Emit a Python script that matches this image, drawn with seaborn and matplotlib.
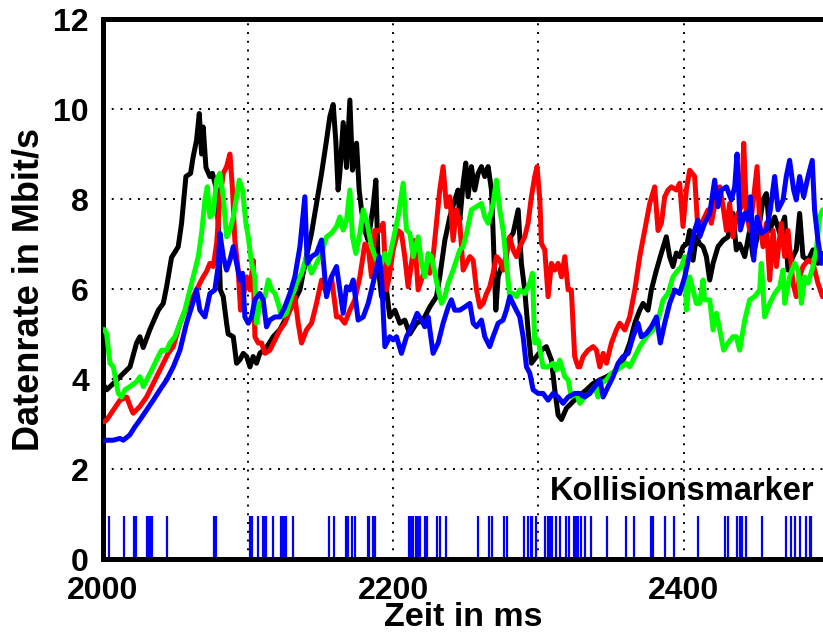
import matplotlib
matplotlib.use("Agg")
import matplotlib.pyplot as plt
import matplotlib.ticker as mticker
import seaborn as sns
import pandas as pd

# ---------------- data (time in ms, rate in Mbit/s) ----------------
black = [(2001, 3.85), (2002.7, 3.76), (2007.3, 3.9), (2011.9, 4.05), (2018.8, 4.27), (2023.3, 4.8),
         (2025.6, 4.94), (2027.9, 4.7), (2032.5, 5.1), (2038.3, 5.53), (2041.7, 5.68), (2044, 6.05),
         (2047.4, 6.7), (2052, 6.94), (2054.3, 7.46), (2057.3, 8.5), (2060.5, 8.57), (2062.3, 8.94),
         (2064.6, 9.3), (2066.5, 9.9), (2068.1, 9.0), (2069.2, 9.6), (2071.1, 8.7), (2073.8, 8.5),
         (2075.6, 8.57), (2078.4, 8.2), (2079.5, 7.46),
         (2081, 5.98), (2083, 5.83), (2085.3, 5.24), (2086.4, 5.0), (2089.9, 4.94), (2092.2, 4.35),
         (2094.5, 4.43), (2096.8, 4.57), (2099.1, 4.5), (2101.4, 4.27), (2103.6, 4.5), (2105.9, 4.35),
         (2108.2, 4.57), (2112.8, 4.7), (2117.4, 4.94), (2122, 5.1), (2126.6, 5.38), (2131.2, 5.68),
         (2135.8, 5.98), (2140.3, 6.72), (2143.8, 7.24), (2147.2, 7.9), (2150.7, 8.57), (2154.1, 9.3),
         (2156.4, 9.83), (2158.7, 10.1), (2160.5, 9.3), (2162.1, 8.2),
         (2163.3, 8.57), (2165.6, 9.7), (2167.9, 8.7), (2170.2, 10.2), (2172, 8.64), (2174.8, 9.24),
         (2176.6, 8.2), (2178.2, 7.76), (2180.5, 7.3), (2182.8, 7.08), (2186.2, 7.83), (2188.1, 8.42),
         (2189.7, 6.5), (2192, 5.83), (2195.4, 5.98), (2197.7, 5.38), (2201.2, 5.53), (2204.6, 5.24),
         (2208, 5.31), (2211.5, 5.0), (2216.1, 5.24), (2220.6, 5.31), (2225.2, 5.6), (2229.8, 5.83),
         (2232.1, 6.27), (2235.6, 7.08), (2239, 7.6), (2242.4, 7.97), (2244.7, 8.2),
         (2245.9, 7.53), (2248.2, 8.35), (2250, 8.8), (2251.6, 8.05), (2253.9, 8.72), (2256.2, 8.2),
         (2258.5, 8.57), (2260.8, 8.72), (2263.1, 8.5), (2265.4, 8.72), (2267.7, 8.2), (2268.8, 7.3),
         (2270.7, 5.53), (2272.3, 6.27), (2274.6, 6.5), (2276.9, 6.43), (2279.2, 7.08), (2282.6, 7.24),
         (2286.1, 7.76), (2288.3, 6.57), (2290.6, 5.98), (2292.9, 5.09), (2295.2, 4.35), (2298.7, 4.5),
         (2302.1, 4.64), (2305.5, 4.72), (2309, 4.42), (2311.3, 3.76), (2313.6, 3.2), (2315.9, 3.1),
         (2319.3, 3.35), (2323.9, 3.5),
         (2328.5, 3.64), (2333.1, 3.76), (2337.7, 3.9), (2342.3, 3.98), (2346.9, 4.05), (2351.4, 4.13),
         (2356, 4.27), (2359.5, 4.5), (2362.9, 4.8), (2366.4, 5.24), (2369.8, 5.53), (2372.1, 5.68),
         (2375.5, 5.53), (2377.8, 5.98), (2381.3, 6.42), (2384.7, 6.8), (2388.1, 7.16), (2390.4, 6.72),
         (2392.7, 6.5), (2395, 6.8), (2397.3, 6.72), (2399.6, 6.94), (2402.4, 7.01), (2404.2, 7.3),
         (2406.5, 6.64), (2408.8, 7.16),
         (2411.1, 7.0), (2413.4, 6.94), (2415.7, 6.72), (2418, 6.2), (2420.3, 6.57), (2423.7, 6.94),
         (2427.2, 7.08), (2430.6, 7.16), (2434, 7.68), (2436.3, 6.87), (2438.6, 7.0), (2442.1, 6.72),
         (2445.5, 7.3), (2447.8, 6.72), (2451.3, 7.24), (2454.7, 7.98), (2457, 8.12), (2459.3, 7.3),
         (2462.7, 7.6), (2466.2, 7.24), (2469.6, 7.6), (2471.9, 6.42), (2475.3, 6.72), (2477.6, 6.87),
         (2479.9, 7.68), (2482.2, 6.72), (2485.7, 6.64), (2489.1, 6.87), (2492.5, 6.57), (2495.7, 6.64)]

red = [(2001, 3.05), (2002.7, 3.09), (2007.3, 3.31), (2011.9, 3.53), (2016.5, 3.6), (2019.9, 3.31),
       (2021, 3.24), (2025.6, 3.39), (2030.2, 3.6), (2034.8, 3.9), (2039.4, 4.2), (2042.8, 4.42),
       (2045.1, 4.57), (2048.6, 4.72), (2053.2, 5.24), (2057.7, 5.6), (2062.3, 5.83), (2066.9, 6.13),
       (2069.2, 6.27), (2071.5, 6.39), (2073.8, 6.57), (2076.1, 6.5), (2078.4, 7.0),
       (2080.7, 7.98), (2083, 8.57), (2085.3, 8.72), (2087.6, 9.0), (2089.4, 8.2), (2091, 7.08),
       (2093.3, 6.42), (2094.9, 5.53), (2096.8, 5.83), (2099.1, 6.27), (2101.4, 5.98), (2103.6, 6.64),
       (2104.8, 4.94), (2107.1, 4.8), (2109.4, 4.8), (2111.7, 4.57), (2115.1, 4.64), (2118.6, 4.87),
       (2122, 5.09), (2125.4, 5.24), (2128.9, 5.53), (2132.3, 5.83), (2134.6, 5.24), (2136.9, 4.8),
       (2140.3, 5.09), (2143.8, 5.24), (2147.2, 5.68), (2150.7, 6.2), (2154.1, 5.9), (2157.5, 6.27),
       (2161, 5.38),
       (2163.3, 5.38), (2166.7, 5.24), (2170.2, 5.53), (2173.6, 5.76), (2177.1, 6.27), (2180.5, 7.0),
       (2182.8, 6.94), (2185.1, 6.27), (2187.4, 7.3), (2190.8, 7.3), (2193.1, 7.46), (2195.4, 5.98),
       (2197.3, 6.27), (2200, 6.87), (2203.4, 7.3), (2205.7, 7.24), (2208, 6.72), (2210.3, 6.05),
       (2212.6, 6.57), (2214.9, 7.08), (2217.2, 5.98), (2220.2, 6.27), (2222.9, 6.5), (2225.2, 6.35),
       (2227.5, 6.72), (2229.8, 7.46), (2232.1, 8.2), (2234.4, 8.72), (2236.7, 7.83), (2239, 8.05),
       (2241.3, 7.08), (2243.6, 7.76),
       (2245.9, 7.46), (2248.2, 6.42), (2250.5, 6.57), (2252.8, 6.72), (2255.1, 6.64), (2257.4, 5.98),
       (2259.7, 5.6), (2262, 5.68), (2264.3, 5.9), (2266.5, 6.05), (2268.8, 6.35), (2271.1, 6.72),
       (2273.4, 6.64), (2275.7, 6.42), (2278, 6.79), (2280.3, 7.16), (2282.6, 6.87), (2284.9, 6.72),
       (2287.2, 6.94), (2290.6, 7.16), (2292.9, 7.46), (2295.2, 8.05), (2297.5, 8.5), (2299.1, 8.72),
       (2301, 7.98), (2302.1, 7.01), (2304.4, 6.87), (2306.7, 5.83), (2309, 6.57), (2311.3, 6.42),
       (2313.6, 6.57), (2315.9, 6.27), (2318.2, 6.72), (2320.5, 5.98), (2322.7, 5.98), (2325, 4.5),
       (2327.3, 4.27),
       (2328.5, 4.27), (2330.8, 4.5), (2334.2, 4.64), (2337.7, 4.72), (2340, 4.64), (2342.3, 4.27),
       (2344.6, 4.57), (2346.9, 4.35), (2350.3, 4.8), (2353.7, 5.09), (2356, 5.24), (2359.5, 5.09),
       (2362.9, 5.38), (2366.4, 5.98), (2369.8, 6.72), (2373.2, 7.3), (2376.7, 7.9), (2380.1, 8.27),
       (2382.4, 7.3), (2384.7, 7.46), (2387, 8.05), (2389.3, 8.2), (2391.6, 8.27), (2395, 8.2),
       (2397.3, 8.35), (2399.6, 7.39), (2401.9, 8.2), (2404.2, 8.64), (2407.6, 8.5), (2409.9, 7.3),
       (2411.1, 7.39), (2414.5, 7.6), (2416.8, 7.76), (2419.1, 7.46), (2422.6, 8.05), (2424.9, 8.27),
       (2427.2, 7.83), (2429.5, 7.3), (2431.7, 7.9), (2434, 7.16), (2436.3, 7.6), (2439.8, 7.83),
       (2441.4, 9.24), (2443.2, 7.76), (2445.5, 7.3), (2447.8, 7.9), (2450.6, 8.72), (2452.4, 7.46),
       (2454.7, 6.94), (2457, 7.46), (2459.3, 6.2), (2461.6, 7.3), (2463.9, 6.5), (2467.3, 7.46),
       (2469.6, 6.72), (2471.9, 7.3), (2475.3, 6.13), (2477.6, 5.83), (2479.9, 6.27), (2482.2, 6.5),
       (2485.7, 6.64), (2489.1, 6.57), (2492.5, 6.13), (2495.7, 5.83)]

green = [(2001, 5.1), (2002.7, 5.0), (2005, 4.35), (2007.3, 4.27), (2010.7, 3.68), (2013, 3.6),
         (2015.3, 3.76), (2018.7, 3.83), (2023.3, 3.94), (2025.6, 4.05), (2027.9, 3.83), (2031.4, 4.05),
         (2034.8, 4.27), (2038.2, 4.5), (2040.5, 4.64), (2044, 4.64), (2046.3, 4.8), (2049.7, 4.94),
         (2053.2, 5.24), (2056.6, 5.53), (2060, 5.98), (2063.5, 6.42), (2065.8, 6.72), (2068.1, 7.24),
         (2070.4, 7.98), (2072, 8.27), (2073.8, 7.6), (2076.1, 7.68), (2078.4, 8.42),
         (2080.7, 8.57), (2083, 8.05), (2085.3, 7.16), (2087.6, 7.31), (2089.9, 7.6), (2092.2, 8.05),
         (2094, 8.42), (2096.3, 8.2), (2098.6, 7.46), (2100.2, 7.16), (2102.5, 6.57), (2104.8, 6.27),
         (2105.9, 5.24), (2108.2, 5.68), (2111.7, 5.83), (2114, 6.2), (2116.3, 5.98), (2118.6, 5.9),
         (2120.8, 5.68), (2123.1, 5.38), (2126.6, 5.46), (2130, 5.83), (2133.5, 6.13), (2136.9, 6.35),
         (2140.3, 6.72), (2143.8, 6.35), (2147.2, 6.57), (2150.7, 6.79), (2154.1, 7.16), (2157.5, 7.24),
         (2161, 7.39),
         (2163.3, 7.6), (2165.6, 7.31), (2167.9, 7.53), (2170.2, 8.2), (2172, 7.16), (2174.3, 6.79),
         (2177.1, 7.24), (2179.4, 7.76), (2182.1, 7.46), (2185.1, 6.94), (2188.5, 6.64), (2192, 6.57),
         (2194.3, 6.79), (2196.6, 6.57), (2200, 7.08), (2203.4, 7.6), (2206.9, 8.35), (2209.2, 7.31),
         (2211.5, 7.24), (2213.8, 6.72), (2217.2, 7.16), (2219.5, 6.57), (2221.8, 6.27), (2224.1, 6.79),
         (2226.4, 6.72), (2228.7, 6.35), (2231, 5.98), (2233.3, 5.68), (2235.6, 5.83), (2237.9, 6.13),
         (2241.3, 6.42),
         (2245.9, 6.87), (2248.2, 6.94), (2250.5, 7.24), (2253.9, 7.76), (2257.4, 7.83), (2260.8, 7.9),
         (2263.1, 7.6), (2265.4, 7.46), (2268.8, 7.9), (2271.1, 8.42), (2273.4, 7.76), (2275.7, 7.31),
         (2278, 6.57), (2280.3, 5.83), (2282.6, 5.9), (2284.9, 5.83), (2287.2, 5.98), (2290.6, 5.9),
         (2294.1, 6.13), (2295.9, 6.35), (2297.5, 4.8), (2299.8, 4.87), (2303.2, 4.27), (2306.7, 4.27),
         (2310.1, 4.35), (2312.4, 4.2), (2314.7, 4.42), (2318.2, 4.05), (2320.5, 3.98), (2322.7, 3.6),
         (2326.2, 3.68),
         (2328.5, 3.46), (2331.9, 3.6), (2335.4, 3.68), (2338.8, 3.83), (2341.1, 3.6), (2343.4, 3.9),
         (2346.9, 3.98), (2350.3, 4.13), (2353.7, 4.2), (2357.2, 4.27), (2360.6, 4.35), (2362.9, 4.27),
         (2366.4, 4.5), (2369.8, 4.72), (2374.4, 4.94), (2379, 5.09), (2382.4, 5.31), (2385.9, 5.76),
         (2389.3, 5.9), (2392.7, 6.27), (2396.2, 6.42), (2398.5, 6.5), (2400.8, 6.72), (2401.9, 5.53),
         (2404.2, 6.27), (2406.5, 5.98), (2408.8, 5.68),
         (2411.1, 5.68), (2413.4, 6.2), (2414.5, 5.76), (2418, 5.76), (2420.3, 5.09), (2422.6, 5.46),
         (2424.9, 5.09), (2427.6, 4.64), (2430.6, 4.8), (2434, 4.94), (2436.3, 4.94), (2438.6, 4.64),
         (2442.1, 5.31), (2445.5, 5.76), (2448.9, 5.83), (2452.4, 5.98), (2453.5, 6.57), (2455.8, 5.38),
         (2459.3, 5.68), (2462.7, 5.9), (2466.2, 6.05), (2468.5, 6.42), (2469.6, 5.68), (2473, 6.27),
         (2476.5, 6.57), (2478.8, 6.42), (2481.1, 5.68), (2483.4, 6.27), (2485.7, 6.13), (2489.1, 6.5),
         (2491.4, 6.87), (2493.7, 7.6), (2495.7, 7.76)]

blue = [(2001, 2.62), (2002.7, 2.64), (2007.3, 2.64), (2011.9, 2.68), (2014.2, 2.64), (2018.7, 2.76),
        (2022.2, 2.94), (2025.6, 3.09), (2030.2, 3.31), (2034.8, 3.53), (2039.4, 3.76), (2044, 3.98),
        (2048.6, 4.27), (2053.2, 4.64), (2057.7, 5.24), (2061.2, 5.6), (2064.6, 5.98), (2066.9, 5.53),
        (2070.4, 5.38), (2073.8, 5.9), (2077.2, 5.98), (2079.5, 6.5),
        (2080.7, 7.24), (2083, 6.72), (2085.3, 6.42), (2087.6, 6.64), (2089.9, 6.94), (2092.2, 6.57),
        (2094.5, 6.2), (2096.3, 6.35), (2097.9, 5.38), (2100.2, 5.24), (2102.5, 5.38), (2104.8, 5.76),
        (2108.2, 5.9), (2110.5, 5.76), (2112.8, 5.16), (2115.1, 5.31), (2118.6, 5.38), (2122, 5.38),
        (2125.4, 5.6), (2128.9, 5.9), (2132.3, 6.27), (2135.8, 6.94), (2139.2, 8.05), (2140.8, 6.57),
        (2143.8, 6.72), (2147.2, 6.79), (2150.7, 7.09), (2154.1, 5.83), (2157.5, 6.27), (2161, 6.5),
        (2163.3, 5.98), (2165.6, 5.46), (2167.9, 6.05), (2170.2, 5.98), (2172.5, 6.2), (2175.9, 5.31),
        (2179.4, 5.38), (2182.8, 5.68), (2186.2, 6.13), (2190.4, 6.72), (2192, 6.27), (2194.3, 4.72),
        (2197.7, 4.94), (2200, 4.87), (2202.3, 4.94), (2205.7, 4.57), (2209.2, 4.94), (2213.8, 5.24),
        (2216.5, 5.46), (2219.5, 5.31), (2221.8, 5.16), (2224.1, 5.38), (2227.5, 4.57), (2231, 4.8),
        (2234.4, 5.24), (2237.9, 5.6), (2240.1, 5.76), (2242.4, 5.53),
        (2245.9, 5.53), (2249.3, 5.6), (2252.8, 5.68), (2255.1, 5.24), (2257.4, 5.16), (2260.8, 5.31),
        (2263.1, 4.94), (2266.5, 4.72), (2268.8, 4.94), (2272.3, 5.24), (2275.7, 5.31), (2278, 5.53),
        (2280.3, 5.83), (2283.7, 5.6), (2287.2, 5.38), (2289.5, 4.94), (2291.8, 4.27), (2294.1, 4.13),
        (2296.4, 3.76), (2299.8, 3.68), (2303.2, 3.68), (2306.7, 3.53), (2310.1, 3.68), (2313.6, 3.6),
        (2317, 3.46), (2320.5, 3.6), (2325, 3.68),
        (2328.5, 3.68), (2331.9, 3.6), (2335.4, 3.68), (2338.8, 3.83), (2342.3, 3.98), (2344.6, 3.6),
        (2348, 3.83), (2351.4, 4.05), (2354.9, 4.35), (2358.3, 4.5), (2361.8, 4.57), (2365.2, 4.94),
        (2368.6, 5.24), (2370.9, 4.94), (2374.4, 5.01), (2377.8, 5.16), (2381.3, 5.38), (2384, 4.8),
        (2387, 5.24), (2390.4, 5.68), (2393.9, 5.98), (2397.3, 5.9), (2400.8, 6.27), (2404.2, 6.79),
        (2407.6, 7.31), (2409.9, 7.53),
        (2411.1, 7.16), (2414.5, 7.46), (2418, 7.68), (2421.4, 8.42), (2423.7, 7.83), (2426, 8.2),
        (2429.5, 8.27), (2432.9, 7.98), (2435.2, 8.27), (2436.8, 9.0), (2439.1, 7.31), (2442.1, 7.68),
        (2444.4, 7.53), (2446, 8.05), (2448.3, 6.64), (2450.6, 7.6), (2453.5, 7.24), (2457, 7.31),
        (2459.7, 7.76), (2462.7, 8.5), (2465, 7.76), (2468.5, 7.98), (2470.7, 8.5), (2473, 8.86),
        (2475.8, 8.2), (2477.6, 7.98), (2479.9, 8.5), (2482.7, 8.05), (2485.7, 8.5), (2488.6, 8.86),
        (2490.2, 7.76), (2492.5, 7.09), (2494.8, 6.57), (2495.7, 6.79)]

collisions = [2004.3, 2014.7, 2021.8, 2022.9, 2030.3, 2031.4, 2032.6, 2033.7, 2044.5, 2076.8, 2078.0,
              2101.4, 2102.5, 2107.1, 2110.1, 2111.2, 2112.4, 2117.4, 2122.7, 2123.8, 2125.0, 2126.1,
              2131.2, 2155.7, 2159.2, 2167.4, 2168.6, 2172.0, 2173.6, 2182.4, 2183.5, 2186.3, 2187.4,
              2211.0, 2212.2, 2213.8, 2215.6, 2217.2, 2218.4, 2221.8, 2223.0, 2229.9, 2232.1, 2236.7,
              2258.5, 2266.1, 2268.4, 2276.4, 2278.7, 2290.2, 2292.9, 2294.8, 2295.9, 2298.2, 2304.4,
              2306.3, 2307.8, 2309.7, 2312.4, 2314.7, 2319.3, 2321.1, 2324.6, 2326.2, 2327.4, 2329.7,
              2331.9, 2336.1, 2347.6, 2360.6, 2365.9, 2377.8, 2378.9, 2387.0, 2393.4, 2409.9, 2428.3,
              2430.6, 2437.0, 2438.6, 2440.5, 2443.2, 2454.2, 2470.7, 2474.2, 2476.5, 2479.9, 2484.5,
              2486.8, 2488.0]
collision_height = 0.96

series_names = ["schwarz", "rot", "grün", "blau"]
series_colors = ["#000000", "#ff0000", "#00ff00", "#0000ff"]
x_label = "Zeit in ms"
y_label = "Datenrate in Mbit/s"
marker_label = "Kollisionsmarker"

# ---------------- plotting ----------------
sns.set_style("white")
plt.rcParams["font.family"] = ["Liberation Sans", "DejaVu Sans"]
plt.rcParams["font.weight"] = "bold"
for key in ["text.color", "axes.labelcolor", "xtick.color", "ytick.color"]:
    plt.rcParams[key] = "black"

fig = plt.figure(figsize=(8.23, 6.38), dpi=100)
ax = fig.add_axes([0.1248, 0.1238, 0.8752, 0.8464])

frames = []
for name, pts in zip(series_names, [black, red, green, blue]):
    df = pd.DataFrame(pts, columns=["t", "v"])
    df["serie"] = name
    frames.append(df)
data = pd.concat(frames, ignore_index=True)

sns.lineplot(data=data, x="t", y="v", hue="serie", palette=dict(zip(series_names, series_colors)),
             hue_order=series_names, estimator=None, sort=False, linewidth=3.6, legend=False,
             ax=ax, zorder=3)

ax.vlines(collisions, 0, collision_height, colors="#0000ff", linewidth=1.6, zorder=2)
ax.text(2490, 1.5, marker_label, ha="right", va="center", fontsize=23.5, fontweight="bold",
        color="black", zorder=4)

ax.set_xlim(2000, 2496)
ax.set_ylim(0, 12)
ax.xaxis.set_major_locator(mticker.MultipleLocator(200))
ax.xaxis.set_minor_locator(mticker.MultipleLocator(100))
ax.yaxis.set_major_locator(mticker.MultipleLocator(2))

ax.grid(True, which="both", axis="x", color="black", linestyle=(0, (1, 3.5)), linewidth=1.4, zorder=1)
ax.grid(True, which="major", axis="y", color="black", linestyle=(0, (1, 3.5)), linewidth=1.4, zorder=1)
ax.set_axisbelow(True)

ax.tick_params(axis="both", which="both", direction="in", length=9, width=2.2, color="black",
               labelcolor="black", labelsize=23)
ax.tick_params(axis="x", which="both", pad=12)
ax.tick_params(axis="y", which="both", pad=10)
ax.tick_params(axis="x", which="minor", labelbottom=False)
for lab in ax.get_xticklabels() + ax.get_yticklabels():
    lab.set_fontweight("bold")

for side in ["left", "bottom", "top"]:
    ax.spines[side].set_visible(True)
    ax.spines[side].set_linewidth(3.6)
    ax.spines[side].set_color("black")
ax.spines["right"].set_visible(False)

ax.set_xlabel(x_label, fontsize=24.5, fontweight="bold", labelpad=-3)
ax.set_ylabel(y_label, fontsize=26, fontweight="bold", labelpad=5)

fig.savefig("out.png", dpi=100)
